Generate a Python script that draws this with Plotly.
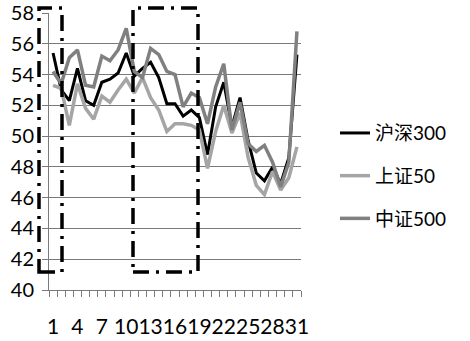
import plotly.graph_objects as go

days = list(range(1, 32))
tick_labels = [1, 4, 7, 10, 13, 16, 19, 22, 25, 28, 31]

hs300 = [55.4, 53.0, 52.3, 54.4, 52.3, 52.0, 53.5, 53.7, 54.1, 55.4,
         53.9, 54.4, 54.8, 53.8, 52.1, 52.1, 51.3, 51.7, 51.2, 48.8,
         51.9, 53.5, 50.6, 52.5, 49.7, 47.6, 47.1, 48.0, 46.9, 48.6, 55.3]
sz50 = [53.3, 53.1, 50.7, 53.4, 51.8, 51.1, 52.6, 52.2, 53.0, 53.7,
        52.8, 53.8, 52.5, 51.7, 50.3, 50.8, 50.8, 50.7, 50.4, 47.9,
        50.3, 52.0, 50.2, 51.5, 48.6, 46.8, 46.2, 47.7, 46.5, 47.3, 49.3]
zz500 = [54.2, 53.4, 55.1, 55.6, 53.3, 53.2, 55.2, 54.9, 55.6, 57.0,
         54.2, 53.8, 55.7, 55.3, 54.2, 54.0, 51.9, 52.8, 52.5, 50.8,
         53.2, 54.7, 50.4, 52.2, 49.5, 49.0, 49.4, 48.3, 46.7, 48.3, 56.8]

names = ["沪深300", "上证50", "中证500"]
colors = ["#000000", "#a5a5a5", "#808080"]
series = [hs300, sz50, zz500]

FONT = "Lato, 'Noto Sans CJK SC', sans-serif"

fig = go.Figure()
for i, (nm, col, vals) in enumerate(zip(names, colors, series)):
    fig.add_trace(go.Scatter(
        x=days, y=vals, name=nm, mode="lines",
        line=dict(color=col, width=3.5 if i else 3),
        legendgroup=nm,
    ))

grid = "#7a7a7a"
fig.update_layout(
    width=470, height=341,
    margin=dict(l=49, r=169, t=13, b=51),
    paper_bgcolor="white", plot_bgcolor="white",
    font=dict(family=FONT, size=20, color="black"),
    showlegend=True,
    legend=dict(
        x=1.135, y=0.635, xanchor="left", yanchor="top",
        font=dict(size=19, family=FONT),
        tracegroupgap=15, traceorder="grouped",
        bgcolor="rgba(0,0,0,0)",
    ),
    xaxis=dict(
        range=[0.5, 31.5], tickmode="array", tickvals=tick_labels,
        ticktext=[str(t) for t in tick_labels], ticks="",
        tickangle=0, automargin=False,
        tickfont=dict(size=21),
        showgrid=False, zeroline=False,
        showline=True, linecolor=grid, linewidth=1,
        ticklabelstandoff=18,
        minor=dict(ticks="outside", ticklen=6, tick0=0.5, dtick=1,
                   tickcolor=grid, showgrid=False),
    ),
    yaxis=dict(
        range=[40, 58], dtick=2, tick0=40, automargin=False,
        showgrid=True, gridcolor=grid, gridwidth=1,
        zeroline=False, showline=True, linecolor=grid, linewidth=1,
        ticks="outside", ticklen=6, tickcolor=grid,
        ticklabelstandoff=4,
    ),
)

# highlighted periods (dash-dot rectangles)
plot_l, plot_w = 49, 252
plot_b, plot_h = 290, 277
def px_x(p):
    return (p - plot_l) / plot_w
def px_y(p):
    return (plot_b - p) / plot_h

rects = [(39, 62), (133, 198)]
for x0, x1 in rects:
    fig.add_shape(
        type="rect", xref="paper", yref="paper",
        x0=px_x(x0), x1=px_x(x1), y0=px_y(272), y1=px_y(8),
        line=dict(color="black", width=3.5, dash="16px,7px,3px,7px"),
        fillcolor="rgba(0,0,0,0)", layer="above",
    )

fig.write_html("out.html")
